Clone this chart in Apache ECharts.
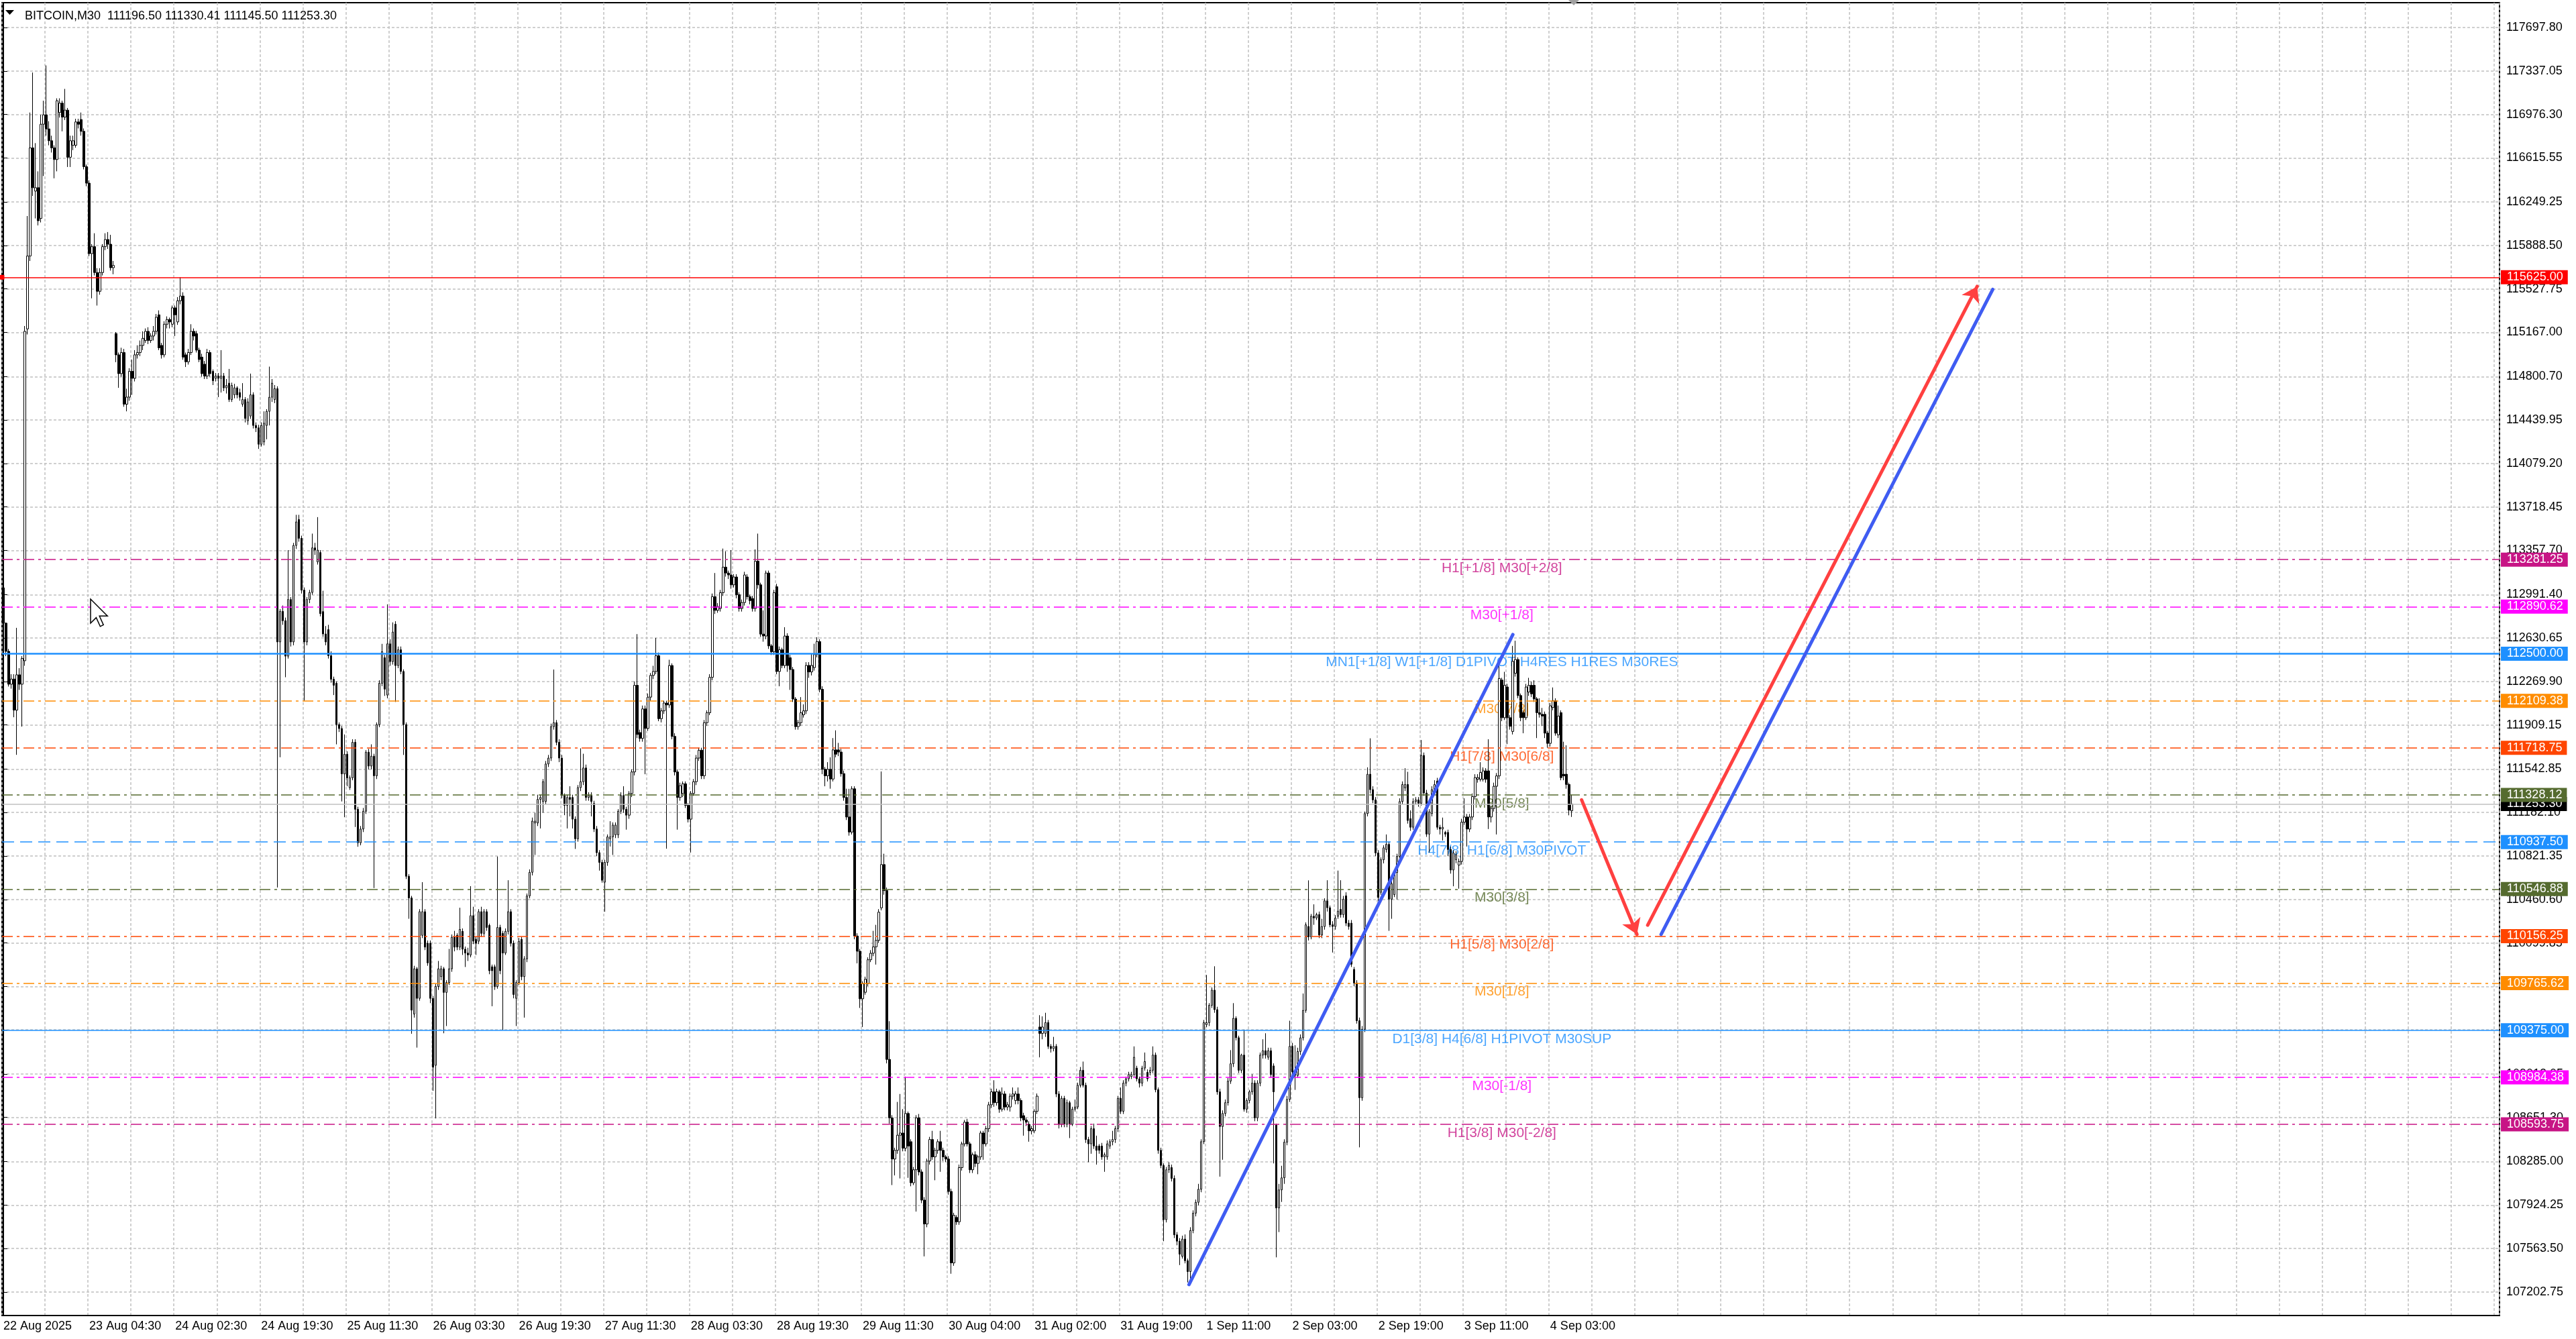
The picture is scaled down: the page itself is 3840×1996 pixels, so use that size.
<!DOCTYPE html>
<html>
<head>
<meta charset="UTF-8">
<title>BITCOIN,M30</title>
<script src="https://cdn.jsdelivr.net/npm/echarts@6/dist/echarts.min.js"></script>
<style>
html, body { margin: 0; padding: 0; background: #fff; }
#main { width: 3840px; height: 1996px; }
</style>
</head>
<body>
<div id="main"></div>
<script>
var titleText = 'BITCOIN,M30  111196.50 111330.41 111145.50 111253.30';

// one label every 32 bars
var dateLabels = ['22 Aug 2025', '23 Aug 04:30', '24 Aug 02:30', '24 Aug 19:30', '25 Aug 11:30',
    '26 Aug 03:30', '26 Aug 19:30', '27 Aug 11:30', '28 Aug 03:30', '28 Aug 19:30', '29 Aug 11:30',
    '30 Aug 04:00', '31 Aug 02:00', '31 Aug 19:00', '1 Sep 11:00', '2 Sep 03:00', '2 Sep 19:00',
    '3 Sep 11:00', '4 Sep 03:00'];

var priceTicks = [117697.80, 117337.05, 116976.30, 116615.55, 116249.25, 115888.50, 115527.75,
    115167.00, 114800.70, 114439.95, 114079.20, 113718.45, 113357.70, 112991.40, 112630.65,
    112269.90, 111909.15, 111542.85, 111182.10, 110821.35, 110460.60, 110099.85, 109739.10,
    109378.35, 109012.05, 108651.30, 108285.00, 107924.25, 107563.50, 107202.75];

// M30 bars: [open, close, low, high]
var bars = [
[113047,112754,112696,113125],[112754,112520,112480,112760],[112520,112247,112228,112540],[112247,112290,112210,112330],
[112290,112032,111973,112330],[112032,112325,111661,112715],[112325,112247,112200,112380],[112247,112461,111895,112480],
[112442,115176,112400,115220],[115196,115801,115150,116133],[115801,116699,115760,116992],[116699,116368,116300,117324],
[116340,116368,116113,116738],[116368,116094,116055,116504],[116113,116895,116080,116973],[116895,116973,116465,117090],
[116973,116856,116800,117383],[116856,116758,116720,116920],[116758,116699,116660,116800],[116699,116602,116446,116720],
[116602,117090,116504,117110],[116992,117070,116950,117110],[117070,116954,116836,117090],[116954,117012,116930,117188],
[117012,116621,116540,117030],[116621,116758,116540,116800],[116720,116758,116680,116800],[116720,116914,116700,116940],
[116914,116895,116860,116940],[116934,116836,116800,116992],[116836,116543,116520,116860],[116543,116406,116380,116560],
[116406,115821,115800,116430],[115821,115879,115450,115900],[115879,115664,115640,115990],[115664,115508,115390,115700],
[115508,115664,115480,115700],[115664,115879,115640,115900],[115879,115938,115850,115990],[115938,115899,115860,116000],
[115899,115704,115680,115977],[115704,115723,115650,115760],[115157,114981,114920,115170],[114981,114825,114707,115000],
[114825,115000,114800,115040],[115000,114571,114550,115030],[114571,114630,114512,114700],[114630,114844,114600,114870],
[114844,114786,114649,114942],[114786,114981,114760,115020],[114981,115000,114950,115060],[115000,115059,114970,115100],
[115059,115118,115020,115176],[115100,115176,115080,115200],[115176,115100,115070,115210],[115100,115137,115080,115160],
[115137,115176,115100,115220],[115176,115293,115150,115320],[115313,115039,115020,115350],[115059,114981,114950,115080],
[114981,115235,114960,115260],[115235,115274,115200,115300],[115274,115254,115200,115290],[115235,115371,115210,115390],
[115371,115313,115137,115390],[115254,115430,115230,115460],[115430,115469,115400,115625],[115469,114962,114940,115500],
[114981,114923,114880,115000],[114923,115000,114900,115030],[115000,115176,114980,115235],[115176,115137,115100,115200],
[115157,115020,115000,115180],[115020,114942,114920,115040],[114962,114825,114800,114990],[114903,114805,114780,114930],
[114805,115000,114780,115030],[115000,114825,114800,115020],[114844,114766,114730,114860],[114786,114805,114760,114830],
[114805,114786,114630,114830],[114786,114805,114668,115020],[114805,114707,114680,114830],[114707,114727,114660,114780],
[114746,114610,114590,114864],[114610,114727,114590,114750],[114649,114707,114620,114740],[114707,114649,114620,114720],
[114668,114629,114600,114700],[114571,114610,114550,114746],[114610,114453,114420,114630],[114434,114590,114400,114620],
[114473,114649,114450,114825],[114649,114395,114370,114670],[114395,114375,114340,114420],[114375,114239,114200,114400],
[114239,114395,114220,114420],[114258,114414,114230,114512],[114395,114512,114280,114530],[114512,114629,114395,114883],
[114629,114746,114590,114780],[114610,114700,114580,114730],[114700,112598,110560,114720],[112598,112852,111641,112870],
[112852,112774,112740,112900],[112774,112480,112305,112800],[112480,112950,112460,113360],[112950,112598,112560,112970],
[112598,113399,112570,113420],[113399,113594,113370,113653],[113614,113458,113430,113653],[113458,113028,113000,113480],
[113028,112598,112110,113050],[112598,112950,112570,112970],[112950,113009,112920,113030],[113009,113379,112990,113497],
[113379,113360,113320,113420],[113262,113360,113240,113634],[113340,112833,112810,113360],[112850,112664,112640,113023],
[112664,112598,112570,112730],[112700,112484,112460,112740],[112484,112288,112260,112520],[112288,112238,112157,112310],
[112255,111912,111748,112270],[111912,111879,111850,111930],[111879,111503,111274,111900],[111503,111666,111143,111830],
[111666,111470,111400,111690],[111389,111470,111370,111490],[111470,111765,111450,111790],[111765,111209,111062,111790],
[111209,110931,110898,111230],[110931,111045,110910,111070],[111045,111193,111020,111220],[111193,111683,111170,111700],
[111683,111568,111540,111710],[111568,111650,111540,111748],[111650,111487,110555,111670],[111487,111912,111460,111930],
[111912,112255,111890,112280],[112255,112517,112230,112582],[112467,112206,112150,112490],[112157,112582,112130,112910],
[112582,112435,112400,112620],[112435,112680,112410,112760],[112745,112402,112100,112770],[112402,112533,112380,112560],
[112533,112353,112330,112560],[112353,111912,111660,112370],[111912,110653,110630,111930],[110653,110473,110300,110670],
[110473,109542,109346,110490],[109509,109885,109480,109910],[109885,109640,109231,109900],[109640,110359,109620,110380],
[110163,110359,110140,110604],[110359,110065,110040,110380],[110097,109934,109910,110120],[110097,109640,109600,110120],
[109640,109068,108872,109660],[109084,109738,108643,109760],[109738,109885,109710,109950],[109820,109885,109790,109910],
[109885,109689,109350,109900],[109689,109771,109410,109790],[109771,109885,109750,110050],[109885,110147,109860,110170],
[110147,110065,110030,110200],[110163,110065,110040,110180],[110065,110212,110040,110392],[110196,110048,110000,110220],
[110048,110016,109900,110070],[110016,110000,109950,110060],[109999,110326,109980,110571],[110326,110114,110090,110400],
[110130,110097,110000,110150],[110114,110359,110090,110380],[110359,110179,110150,110400],[110179,110359,110160,110380],
[110359,110228,110200,110380],[110245,109869,109840,110260],[109902,109869,109574,109920],[109902,109738,109710,109920],
[109738,110228,109720,110817],[110228,109869,109840,110250],[110179,110016,109378,110200],[110016,110196,110000,110220],
[110196,110359,110170,110620],[110359,110097,110070,110380],[110097,109672,109640,110120],[109640,109771,109410,109790],
[109771,110114,109750,110140],[110130,109820,109790,110150],[109820,109967,109480,109990],[109967,110490,109940,110510],
[110490,110686,110470,110710],[110686,111111,110660,111140],[111095,111111,110830,111180],[111095,111291,111070,111330],
[111291,111307,111050,111330],[111274,111438,111180,111460],[111274,111585,111250,111610],[111585,111634,111560,111660],
[111634,111895,111610,111920],[111895,111928,111870,112369],[111928,111765,111740,111950],[111765,111634,111600,111790],
[111634,111323,111300,111660],[111323,111241,111160,111340],[111241,111307,111050,111330],[111307,111291,111150,111400],
[111307,111127,111050,111330],[111127,110964,110880,111150],[110964,111389,110940,111410],[111389,111438,111360,111715],
[111438,111552,111410,111670],[111552,111307,111280,111580],[111307,111323,111280,111350],[111323,111274,111150,111350],
[111258,111045,111020,111280],[111045,110849,110820,111070],[110849,110768,110700,110870],[110768,110620,110600,110790],
[110604,110768,110359,110790],[110768,110980,110740,111000],[110964,110980,110900,111110],[110980,111078,110830,111100],
[110997,111078,110970,111100],[110997,111193,110970,111210],[111193,111323,111170,111350],[111323,111209,111180,111400],
[111209,111160,111040,111230],[111160,111340,111130,111360],[111340,111519,111310,111540],[111519,112238,111490,112270],
[112238,111830,111800,112663],[111846,111797,111770,111870],[111797,112042,111770,112070],[112042,111880,111500,112070],
[111880,112140,111860,112170],[112140,112320,112110,112340],[112320,112353,112290,112400],[112353,112484,112330,112631],
[112484,111961,111940,112510],[111961,112026,111930,112050],[112026,112091,112000,112110],[112091,112075,110882,112110],
[112075,112402,112050,112450],[112402,111814,111790,112420],[111814,111519,111490,111840],[111519,111307,111040,111540],
[111307,111405,111280,111430],[111340,111421,111310,111440],[111421,111241,111220,111440],[111241,111127,111100,111260],
[111127,111340,110850,111360],[111340,111438,111320,111460],[111438,111634,111410,111660],[111634,111699,111610,111720],
[111699,111487,111460,111720],[111487,111928,111460,111950],[111928,112010,111900,112030],[112010,112304,111990,112330],
[112304,112974,112280,113000],[112974,112860,112830,113170],[112860,112892,112840,112920],[112876,113007,112850,113030],
[113007,113219,112980,113373],[113219,113170,113140,113350],[113170,113154,113120,113190],[113154,113072,113040,113360],
[113072,113137,113050,113160],[113137,112990,112960,113160],[112990,112876,112850,113010],[112876,112925,112850,112950],
[112925,113154,112900,113180],[113137,112974,112950,113160],[112974,112941,112910,112990],[112958,112876,112850,112980],
[112876,113268,112850,113366],[113268,113072,113040,113497],[113072,112663,112640,113090],[112663,112647,112600,112860],
[112647,113170,112620,113190],[113170,112565,112540,113190],[112565,112516,112490,112580],[112516,113007,112490,113030],
[113056,112353,112330,113080],[112353,112533,112230,112560],[112533,112402,112380,112550],[112402,112647,112380,112720],
[112647,112402,112350,112670],[112467,112369,112200,112490],[112369,112124,112100,112390],[112124,111895,111870,112140],
[111895,111928,111870,111950],[111928,112010,111900,112140],[111993,112026,111970,112080],[112026,112403,112000,112430],
[112403,112349,112300,112430],[112349,112403,112320,112500],[112385,112493,112360,112583],[112493,112601,112470,112637],
[112601,112205,112180,112620],[112205,111541,111500,112230],[111541,111487,111400,111560],[111487,111541,111440,111600],
[111541,111460,111380,111640],[111460,111702,111440,111800],[111702,111666,111640,111864],[111702,111684,111650,111760],
[111684,111505,111480,111710],[111505,111307,111280,111530],[111307,111145,111120,111380],[111145,111020,110990,111379],
[111020,111379,111000,111400],[111379,110157,110130,111400],[110157,110031,109930,110180],[110031,109636,109560,110050],
[109636,109762,109402,109780],[109690,109798,109670,109820],[109762,109960,109740,109980],[109960,110014,109940,110040],
[110014,110067,109990,110200],[110067,110121,109920,110250],[110121,110355,110100,110380],[110391,110750,110370,111523],
[110750,110534,110500,110840],[110534,109133,109100,110560],[109133,108648,108600,109450],[108648,108306,108090,108670],
[108306,108378,108170,108400],[108378,108504,108350,108780],[108504,108522,108145,108846],[108522,108396,108370,108720],
[108396,108684,108370,108990],[108684,108414,108150,108700],[108450,108109,108080,108470],[108109,108217,108090,108240],
[108217,108648,107870,108670],[108648,108199,108170,108680],[108199,107965,107940,108220],[107965,107767,107498,107990],
[107767,108289,107740,108310],[108289,108468,108260,108490],[108468,108324,108300,108540],[108324,108378,108130,108400],
[108378,108450,108350,108470],[108450,108378,108200,108540],[108378,108324,108290,108400],[108324,108306,108280,108340],
[108306,108037,108010,108330],[108037,107444,107354,108060],[107444,107839,107420,107860],[107821,107785,107760,107840],
[107785,108235,107760,108260],[108235,108432,108210,108450],[108432,108612,108410,108630],[108612,108432,108410,108640],
[108432,108217,108190,108450],[108217,108342,108190,108360],[108342,108270,108240,108370],[108270,108324,108180,108340],
[108324,108522,108300,108540],[108522,108432,108300,108540],[108432,108558,108410,108580],[108558,108756,108530,108780],
[108756,108864,108730,108890],[108864,108774,108740,108960],[108774,108864,108750,108890],[108864,108720,108690,108880],
[108720,108846,108700,108900],[108846,108738,108710,108870],[108738,108756,108710,108780],[108738,108828,108700,108850],
[108828,108846,108800,108900],[108792,108846,108760,108870],[108846,108792,108760,108900],[108792,108648,108620,108810],
[108666,108630,108500,108690],[108630,108612,108580,108650],[108594,108540,108450,108620],[108540,108558,108510,108580],
[108540,108702,108520,108720],[108702,108828,108680,108850],[109402,109349,109150,109500],[109349,109402,109300,109490],
[109349,109439,109320,109520],[109439,109241,109220,109460],[109241,109223,109190,109260],[109223,109241,109200,109320],
[109241,108846,108820,109260],[108846,108594,108560,108870],[108594,108810,108570,108830],[108810,108594,108570,108830],
[108594,108774,108570,108800],[108774,108594,108480,108790],[108594,108720,108580,108740],[108720,108738,108700,108800],
[108738,108918,108720,108940],[108918,109043,108900,109070],[109043,108918,108900,109115],[108918,108468,108440,108940],
[108468,108432,108280,108490],[108432,108558,108350,108580],[108558,108414,108390,108600],[108414,108378,108260,108500],
[108414,108378,108350,108430],[108414,108324,108300,108440],[108324,108342,108200,108360],[108324,108432,108300,108460],
[108414,108450,108390,108470],[108450,108468,108420,108540],[108468,108558,108440,108580],[108558,108810,108530,108830],
[108810,108702,108680,108900],[108702,108936,108680,108960],[108936,108972,108910,108990],[108972,109007,108950,109030],
[108990,109007,108970,109030],[109007,109151,108990,109241],[109061,108972,108950,109080],[108972,108936,108900,108990],
[108936,109061,108910,109080],[109061,109115,109040,109190],[109025,108972,108950,109050],[109025,109043,109000,109070],
[109043,109169,109020,109241],[109169,108882,108860,109190],[108882,108378,108350,108900],[108378,108253,108230,108400],
[108253,107803,107624,108270],[107803,108217,107780,108240],[108217,108253,108190,108280],[108235,108145,108120,108260],
[108145,107677,107650,108170],[107677,107624,107590,107700],[107624,107516,107426,107650],[107498,107642,107480,107670],
[107642,107462,107440,107680],[107462,107372,107282,107480],[107372,107713,107282,107740],[107713,107857,107690,107880],
[107857,107947,107830,107970],[107947,108055,107920,108100],[108055,108450,108030,108470],[108450,109438,108430,109460],
[109420,109438,109400,109834],[109438,109582,109410,109600],[109582,109708,109560,109730],[109708,109546,109520,109906],
[109546,108864,108840,109570],[108864,108576,108160,108890],[108576,108684,108300,108710],[108684,108774,108660,108800],
[108774,108953,108750,108980],[108953,109097,108930,109210],[109097,109474,109070,109600],[109474,109313,109290,109490],
[109313,109043,109020,109330],[109043,109169,109020,109180],[109169,108720,108700,109380],[108720,108792,108690,108810],
[108792,108864,108770,108880],[108864,108936,108840,109010],[108936,108648,108620,108960],[108648,108936,108620,108960],
[108936,109169,108910,109190],[109169,109205,109140,109300],[109205,109169,109140,109350],[109151,109205,109130,109230],
[109205,109007,108980,109230],[109079,108864,108270,109100],[108588,107900,107490,108600],[107900,108050,107700,108100],
[108050,108150,107950,108250],[108150,108446,108100,108470],[108446,108801,108420,108830],[108801,109241,108780,109454],
[109241,109028,109000,109270],[109028,109000,108880,109250],[109000,109199,108980,109230],[109199,109312,109170,109340],
[109312,109540,109290,109680],[109540,110250,109520,110270],[110236,110150,110120,110619],[110150,110321,110130,110340],
[110321,110307,110250,110420],[110307,110335,110290,110350],[110335,110165,110140,110360],[110165,110236,110140,110300],
[110236,110449,110210,110470],[110449,110392,110360,110620],[110392,110250,110230,110410],[110250,110236,110020,110280],
[110236,110307,110210,110330],[110321,110364,110300,110700],[110378,110335,110310,110620],[110335,110463,110310,110490],
[110491,110264,110240,110520],[110264,110236,110210,110290],[110264,109923,109900,110290],[109880,109767,109740,109900],
[109767,109454,109430,109790],[109454,108815,108403,109480],[108815,109383,108790,109410],[109383,111173,109360,111190],
[111173,111500,111150,111557],[111500,111372,111340,111798],[111372,111287,111260,111400],[111287,110847,110820,111310],
[110847,110477,110450,110870],[110520,110790,110500,110810],[110790,110889,110760,110910],[110875,110918,110850,111000],
[110918,110463,110200,110940],[110463,110591,110300,110610],[110500,110684,110480,110710],[110684,110818,110460,110840],
[110818,111273,110790,111300],[111273,111415,111250,111440],[111386,111415,111360,111550],[111415,111116,111090,111520],
[111131,111060,111030,111200],[111060,111273,111040,111300],[111273,111287,111250,111310],[111287,111259,111230,111310],
[111259,111656,111240,111784],[111656,111344,111320,111680],[111344,111003,110980,111370],[111003,111187,110850,111210],
[111173,111372,111150,111400],[111372,111415,111350,111450],[111443,111060,111040,111470],[111060,111045,111000,111080],
[111045,111060,110950,111140],[111017,111003,110980,111030],[111017,110875,110820,111040],[110875,110705,110675,110900],
[110705,110847,110570,110870],[110790,110832,110760,110860],[110746,110776,110550,110800],[110776,111102,110750,111130],
[111102,111145,111080,111300],[111145,111045,110900,111170],[111045,111145,111020,111170],[111145,111315,111120,111340],
[111315,111472,111290,111500],[111458,111472,111430,111500],[111458,111514,111440,111600],[111458,111528,111440,111557],
[111528,111458,111430,111550],[111528,111145,111045,111790],[111145,111216,111100,111240],[111216,111400,111190,111430],
[111400,111486,111000,111510],[111486,112295,111460,112409],[112281,111969,111940,112300],[111969,112238,111950,112350],
[112224,111969,111750,112250],[111969,111898,111870,111990],[111855,112437,111830,112565],[112338,112452,112310,112608],
[112452,112153,112130,112470],[112153,111969,111940,112170],[112011,111969,111840,112030],[111969,112224,111950,112250],
[112182,112238,112150,112300],[112238,112167,112140,112270],[112238,112125,112100,112280],[112125,112011,111800,112140],
[112011,111997,111970,112130],[111997,111983,111900,112050],[111997,111841,111800,112020],[111841,111756,111720,111860],
[111756,112068,111730,112090],[112054,112111,112030,112220],[112111,111841,111820,112130],[111827,111983,111800,112070],
[112011,111472,111450,112030],[111500,111486,111450,111770],[111500,111415,111380,111740],[111415,111202,111159,111430],
[111196.50,111253.30,111145.50,111330.41]
];

// Murrey-math levels drawn by the indicator
var levelPrices = [115625.00, 113281.25, 112890.62, 112500.00, 112109.38, 111718.75, 111328.12,
    110937.50, 110546.88, 110156.25, 109765.62, 109375.00, 108984.38, 108593.75];
var levelTexts = ['', 'H1[+1/8] M30[+2/8]', 'M30[+1/8]', 'MN1[+1/8] W1[+1/8] D1PIVOT H4RES H1RES M30RES',
    'M30[7/8]', 'H1[7/8] M30[6/8]', 'M30[5/8]', 'H4[7/8] H1[6/8] M30PIVOT', 'M30[3/8]',
    'H1[5/8] M30[2/8]', 'M30[1/8]', 'D1[3/8] H4[6/8] H1PIVOT M30SUP', 'M30[-1/8]', 'H1[3/8] M30[-2/8]'];
var bidPrice = 111253.30;

// hand drawn lines: [barFrom, priceFrom, barTo, priceTo]
var blueLines = [[441.5, 107264, 562.1, 112659], [617.3, 110171, 740.8, 115524]];
var redArrows = [[587.7, 111287, 608.3, 110171], [612.3, 110247, 735.0, 115549]];

var SLOTS = 930;      // bars visible incl. empty shift area
var TEXT_BAR = 558;   // where the level names are centred

// styles
var FONT = 'Liberation Sans, Arial, sans-serif';
var levelColors = ['#ff0000', '#c71585', '#ff00ff', '#1e90ff', '#ff8c00', '#ff4500', '#556b2f',
    '#1e90ff', '#556b2f', '#ff4500', '#ff8c00', '#1e90ff', '#ff00ff', '#c71585'];
var DASHDOT = [16, 6, 4, 6];
var levelTypes = ['solid', DASHDOT, DASHDOT, 'solid', DASHDOT, DASHDOT, DASHDOT, [18, 9],
    DASHDOT, DASHDOT, DASHDOT, 'solid', DASHDOT, DASHDOT];
var levelWidths = [1.5, 1.5, 1.5, 2.5, 1.5, 1.5, 1.5, 1.5, 1.5, 1.5, 1.5, 1.5, 1.5, 1.5];
var GRID_DASH = [4, 3];

var slots = [];
for (var i = 0; i < SLOTS; i++) slots.push(i);

function tag(bg) {
    return {
        show: true, position: 'end', distance: 2,
        formatter: function (p) { return Number(p.value).toFixed(2); },
        color: '#fff', backgroundColor: bg, padding: [2, 7, 1, 9],
        fontSize: 18, fontFamily: FONT
    };
}

var markLines = [{
    yAxis: bidPrice,
    lineStyle: { color: '#c0c0c0', width: 1.5, type: 'solid' },
    label: tag('#000')
}];
levelPrices.forEach(function (p, k) {
    var item = {
        yAxis: p,
        lineStyle: { color: levelColors[k], width: levelWidths[k], type: levelTypes[k] },
        label: tag(levelColors[k])
    };
    if (k === 0) {
        item.symbol = ['emptyRect', 'emptyRect'];
        item.symbolSize = 7;
    }
    markLines.push(item);
});

var levelNames = [];
levelPrices.forEach(function (p, k) {
    if (levelTexts[k]) {
        levelNames.push({ value: [TEXT_BAR, p], name: levelTexts[k], label: { color: levelColors[k] } });
    }
});

var myChart = echarts.init(document.getElementById('main'), null, { renderer: 'canvas' });

var option = {
    animation: false,
    backgroundColor: '#ffffff',
    title: {
        text: titleText, left: 32, top: 10,
        textStyle: { fontSize: 18, fontWeight: 'normal', color: '#000', fontFamily: FONT }
    },
    grid: {
        left: 3, right: 114, top: 4, bottom: 35,
        show: true, borderColor: '#000', borderWidth: 2, backgroundColor: '#fff'
    },
    xAxis: [{
        type: 'category',
        data: slots,
        boundaryGap: true,
        axisLine: { lineStyle: { color: '#000', width: 2 } },
        axisTick: { interval: 31, alignWithLabel: true, length: 5, lineStyle: { color: '#000' } },
        axisLabel: {
            interval: 31, align: 'left', margin: 7,
            fontSize: 18, color: '#000', fontFamily: FONT,
            formatter: function (v, idx) { return dateLabels[idx / 32] || ''; }
        },
        splitLine: { show: true, interval: 15, lineStyle: { color: '#c0c0c0', width: 1.5, type: GRID_DASH } }
    }, {
        type: 'value', min: -0.5, max: SLOTS - 0.5, show: false
    }],
    yAxis: {
        type: 'value', position: 'right',
        min: 107007.2, max: 117903.8,
        axisLine: { show: true, lineStyle: { color: '#000', width: 2 } },
        axisTick: { show: true, length: 6, customValues: priceTicks, lineStyle: { color: '#000' } },
        axisLabel: {
            customValues: priceTicks, margin: 10,
            fontSize: 18, color: '#000', fontFamily: FONT,
            formatter: function (v) { return Number(v).toFixed(2); }
        },
        splitLine: { show: true, lineStyle: { color: '#c0c0c0', width: 1.5, type: GRID_DASH } }
    },
    series: [{
        type: 'scatter',
        xAxisIndex: 1,
        data: levelNames,
        symbolSize: 1,
        itemStyle: { color: 'transparent' },
        z: 1,
        label: {
            show: true, position: 'bottom', distance: 2,
            fontSize: 21, fontFamily: FONT,
            formatter: function (p) { return p.name; }
        }
    }, {
        type: 'candlestick',
        data: bars,
        barWidth: 3,
        z: 3,
        itemStyle: {
            color: '#ffffff', color0: '#000000',
            borderColor: '#000000', borderColor0: '#000000', borderWidth: 1
        },
        markLine: {
            silent: true,
            symbol: ['none', 'none'],
            animation: false,
            data: markLines
        }
    }, {
        type: 'lines',
        coordinateSystem: 'cartesian2d',
        xAxisIndex: 1,
        z: 5,
        symbol: ['none', 'none'],
        lineStyle: { color: '#3f5cf2', width: 5, opacity: 1, cap: 'round' },
        data: blueLines.map(function (t) { return { coords: [[t[0], t[1]], [t[2], t[3]]] }; })
    }, {
        type: 'lines',
        coordinateSystem: 'cartesian2d',
        xAxisIndex: 1,
        z: 5,
        symbol: ['none', 'arrow'],
        symbolSize: 22,
        lineStyle: { color: '#ff4040', width: 5, opacity: 1, cap: 'round' },
        data: redArrows.map(function (t) { return { coords: [[t[0], t[1]], [t[2], t[3]]] }; })
    }],
    graphic: [{
        // collapse triangle before the symbol name
        type: 'polygon', shape: { points: [[8, 15], [21, 15], [14.5, 22]] },
        style: { fill: '#000' }
    }, {
        // chart shift marker
        type: 'polygon', shape: { points: [[2338, 0], [2354, 0], [2346, 8]] },
        style: { fill: '#a0a0a0' }
    }, {
        // mouse pointer left on the chart
        type: 'polygon', z: 100,
        shape: { points: [[135, 893], [135, 929], [143.4, 920.6], [149.4, 933.8], [154.2, 931.4], [148.2, 918.2], [160.2, 918.2]] },
        style: { fill: '#fff', stroke: '#000', lineWidth: 1.5 }
    }]
};

myChart.setOption(option);
</script>
</body>
</html>
